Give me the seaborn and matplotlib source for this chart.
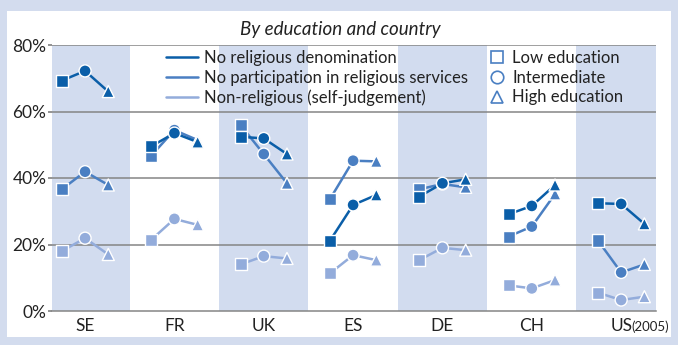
import matplotlib
matplotlib.use("Agg")
import matplotlib.pyplot as plt
from matplotlib.lines import Line2D
from matplotlib.patches import Rectangle
import seaborn as sns
import pandas as pd

countries = ["SE", "FR", "UK", "ES", "DE", "CH", "US"]
education = ["Low", "Intermediate", "High"]
series = ["No religious denomination",
          "No participation in religious services",
          "Non-religious (self-judgement)"]

no_denomination = [
    [69.3, 72.2, 66.0],   # SE
    [49.5, 53.5, 50.8],   # FR
    [52.4, 51.9, 47.2],   # UK
    [21.1, 31.9, 34.9],   # ES
    [34.4, 38.4, 39.6],   # DE
    [29.1, 31.6, 37.9],   # CH
    [32.4, 32.2, 26.2],   # US
]
no_participation = [
    [36.6, 41.9, 37.9],
    [46.7, 54.4, 51.4],
    [55.9, 47.2, 38.4],
    [33.6, 45.2, 45.0],
    [36.6, 38.2, 37.2],
    [22.4, 25.4, 35.2],
    [21.2, 11.6, 14.0],
]
non_religious = [
    [18.0, 21.9, 17.0],
    [21.4, 27.7, 25.9],
    [14.0, 16.5, 15.8],
    [11.3, 16.8, 15.3],
    [15.3, 19.0, 18.3],
    [7.7, 6.8, 9.3],
    [5.5, 3.3, 4.3],
]
y_ticks = [0, 20, 40, 60, 80]
y_labels = ["0%", "20%", "40%", "60%", "80%"]

colors = {series[0]: "#0a5ea8", series[1]: "#4a7fc2", series[2]: "#93acdb"}
band = "#d2dcef"
bg = "#d3dcee"
offsets = {"Low": -0.26, "Intermediate": 0.0, "High": 0.26}

rows = []
for sname, vals in zip(series, [no_denomination, no_participation, non_religious]):
    for ci, c in enumerate(countries):
        for ei, e in enumerate(education):
            rows.append(dict(series=sname, country=c, education=e,
                             x=ci + offsets[e], value=vals[ci][ei]))
df = pd.DataFrame(rows)

sns.set_theme(style="white")
plt.rcParams["font.family"] = ["Lato", "DejaVu Sans"]

fig = plt.figure(figsize=(6.78, 3.45), dpi=100)
fig.patch.set_facecolor(bg)
fig.patches.append(Rectangle((7/678, 1-337/345), (671-7)/678, (337-11)/345,
                             transform=fig.transFigure, facecolor="white",
                             edgecolor="none", zorder=-10))
ax = fig.add_axes([52/678, 1-311/345, (656-52)/678, (311-45)/345])
ax.set_facecolor("white")
ax.set_zorder(1)

for i in range(len(countries)):
    if i % 2 == 0:
        ax.axvspan(i - 0.5, i + 0.5, ymin=0, ymax=1, color=band, lw=0, zorder=0)

for yv in y_ticks[1:]:
    ax.axhline(yv, color="#858585", lw=1.1, zorder=1)

for sname in reversed(series):
    sub = df[df.series == sname]
    sns.lineplot(data=sub, x="x", y="value", units="country", estimator=None,
                 color=colors[sname], lw=1.8, sort=False, ax=ax, legend=False,
                 zorder=2)
    sns.scatterplot(data=sub, x="x", y="value", style="education",
                    markers={"Low": "s", "Intermediate": "o", "High": "^"},
                    color=colors[sname], s=75, edgecolor="white", linewidth=1,
                    ax=ax, legend=False, zorder=3)

ax.set_xlim(-0.37, 6.39)
ax.set_ylim(0, 80)
ax.set_xticks(range(len(countries)))
ax.set_xticklabels(countries, fontsize=12.5, color="#222222")
ax.set_yticks(y_ticks)
ax.set_yticklabels(y_labels, fontsize=12.5, color="#222222")
ax.set_xlabel("")
ax.set_ylabel("")
for s in ["top", "right", "left"]:
    ax.spines[s].set_visible(False)
ax.spines["bottom"].set_color("#858585")
ax.spines["bottom"].set_linewidth(1.1)
ax.tick_params(axis="y", length=3, color="#858585", pad=1, left=True)
ax.tick_params(axis="x", length=0, pad=5)
ax.annotate("(2005)", xy=(6, 0), xycoords=("data", "axes fraction"),
            xytext=(7.5, -7), textcoords="offset points", ha="left", va="top",
            fontsize=9.5, color="#222222")

fig.text(340/678, 1-30/345, "By education and country", ha="center",
         va="center", fontsize=13.5, style="italic", color="#222222")

h1 = [Line2D([], [], color=colors[s], lw=1.8) for s in series]
leg1 = fig.legend(h1, series, loc="upper left",
                  bbox_to_anchor=(166/678, 1-50/345), frameon=False,
                  fontsize=12, handlelength=1.9, handletextpad=0.35,
                  labelspacing=0.22, borderpad=0, borderaxespad=0)
leg1.set_zorder(5)
for t in leg1.get_texts():
    t.set_color("#222222")
h2 = [Line2D([], [], color="#4a7fc2", marker=m, markerfacecolor="white",
             markeredgewidth=1.2, markersize=9, linestyle="none")
      for m in ["s", "o", "^"]]
leg2 = fig.legend(h2, ["Low education", "Intermediate", "High education"],
                  loc="upper left", bbox_to_anchor=(489/678, 1-50/345),
                  frameon=False, fontsize=12, handlelength=1.0,
                  handletextpad=0.4, labelspacing=0.22, borderpad=0,
                  borderaxespad=0)
leg2.set_zorder(5)
for t in leg2.get_texts():
    t.set_color("#222222")

fig.savefig("out.png", dpi=100, facecolor=bg)
